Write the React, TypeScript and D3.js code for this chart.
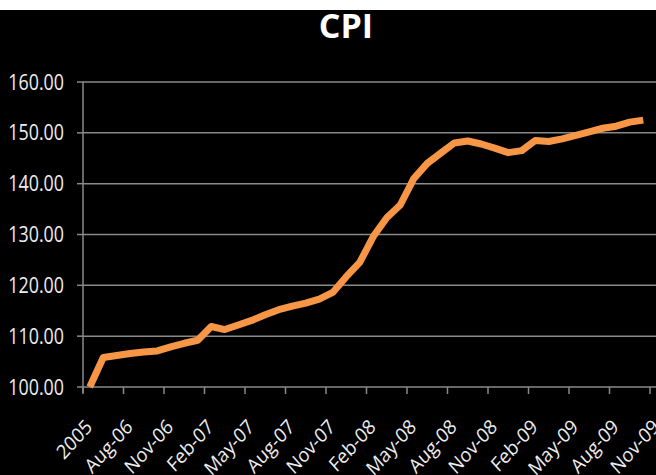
import * as React from "react";
import { scaleBand, scaleLinear, line, curveLinear } from "d3";

// categories: 2005 base, then monthly Jun-06 .. Nov-09
const categories = [
  "2005", "Jun-06", "Jul-06", "Aug-06", "Sep-06", "Oct-06", "Nov-06", "Dec-06",
  "Jan-07", "Feb-07", "Mar-07", "Apr-07", "May-07", "Jun-07", "Jul-07", "Aug-07",
  "Sep-07", "Oct-07", "Nov-07", "Dec-07", "Jan-08", "Feb-08", "Mar-08", "Apr-08",
  "May-08", "Jun-08", "Jul-08", "Aug-08", "Sep-08", "Oct-08", "Nov-08", "Dec-08",
  "Jan-09", "Feb-09", "Mar-09", "Apr-09", "May-09", "Jun-09", "Jul-09", "Aug-09",
  "Sep-09", "Oct-09", "Nov-09",
];

const cpi = [
  100.0, 105.8, 106.2, 106.6, 106.9, 107.1, 107.9, 108.6, 109.2, 111.9,
  111.3, 112.2, 113.1, 114.2, 115.2, 115.9, 116.5, 117.3, 118.6, 121.7,
  124.5, 129.6, 133.3, 135.8, 141.0, 144.0, 146.0, 148.0, 148.4, 147.8,
  147.0, 146.1, 146.5, 148.5, 148.3, 148.8, 149.5, 150.2, 150.9, 151.3,
  152.1, 152.5,
];

const yTicks = [100, 110, 120, 130, 140, 150, 160];
const labelEvery = 3;

const W = 656;
const H = 475;

export default function App() {
  const left = 83;
  const bottom = 387;
  const top = 82;

  const x = scaleBand<string>()
    .domain(categories)
    .range([left, left + 13.5 * categories.length])
    .paddingInner(0)
    .paddingOuter(0);

  const y = scaleLinear().domain([100, 160]).range([bottom, top]);

  const cx = (i: number) => (x(categories[i]) as number) + x.bandwidth() / 2;

  const path = line<number>()
    .x((_, i) => cx(i))
    .y((d) => y(d))
    .curve(curveLinear)(cpi);

  const tickXs = categories
    .map((c, i) => ({ c, i }))
    .filter((d) => d.i % labelEvery === 0)
    .map((d) => x(d.c) as number);

  const font = "'Open Sans', 'DejaVu Sans', sans-serif";

  return (
    <svg
      width={W}
      height={H}
      style={{ position: "fixed", left: 0, top: 0, background: "#000" }}
    >
      <rect x={0} y={0} width={W} height={H} fill="#000" />
      <rect x={0} y={0} width={W} height={10} fill="#fff" />

      <text
        x={346}
        y={38}
        fill="#fff"
        fontFamily="'Liberation Sans Narrow', 'Open Sans', sans-serif"
        fontWeight="bold"
        fontSize={34}
        textAnchor="middle"
      >
        CPI
      </text>

      {/* gridlines + y labels */}
      {yTicks.map((t) => (
        <g key={t}>
          <line x1={left} x2={W} y1={y(t)} y2={y(t)} stroke="#8a8a8a" strokeWidth={1.5} />
          <line x1={left - 6} x2={left} y1={y(t)} y2={y(t)} stroke="#8a8a8a" strokeWidth={1.5} />
          <text
            transform={`translate(64,${y(t)}) scale(0.85,1)`}
            dy="0.36em"
            fill="#eeeeee"
            fontFamily={font}
            fontSize={21}
            textAnchor="end"
          >
            {t.toFixed(2)}
          </text>
        </g>
      ))}

      {/* axes */}
      <line x1={left} x2={left} y1={top} y2={bottom + 6} stroke="#8a8a8a" strokeWidth={1.5} />
      {tickXs.map((tx, i) => (
        <line key={i} x1={tx} x2={tx} y1={bottom} y2={bottom + 7} stroke="#8a8a8a" strokeWidth={1.5} />
      ))}

      {/* x labels */}
      {categories.map((c, i) =>
        i % labelEvery === 0 ? (
          <text
            key={c}
            transform={`translate(${cx(i) - 1},${bottom + 36}) scale(1,1.12) rotate(-45)`}
            fill="#eeeeee"
            fontFamily={font}
            fontSize={18}
            textAnchor="end"
            dy="0.35em"
          >
            {c}
          </text>
        ) : null
      )}

      <path
        d={path || ""}
        fill="none"
        stroke="#f79646"
        strokeWidth={7}
        strokeLinejoin="round"
      />
    </svg>
  );
}
